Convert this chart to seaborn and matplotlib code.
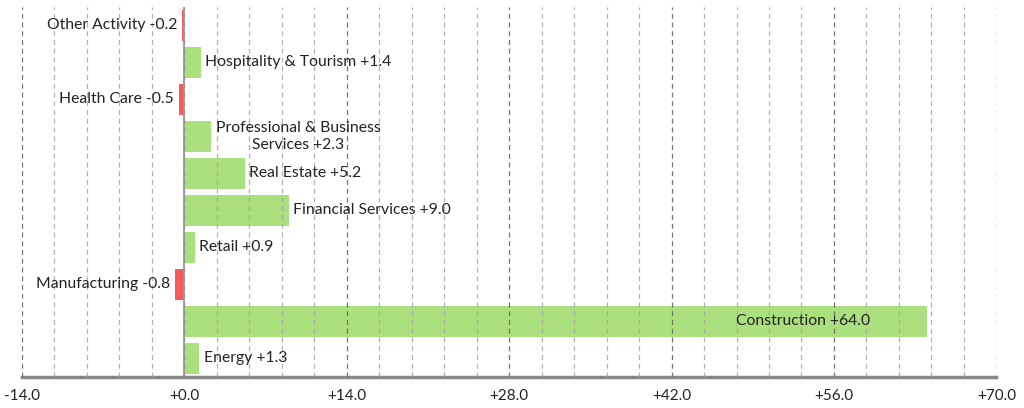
import matplotlib
matplotlib.use("Agg")
import matplotlib.pyplot as plt
import numpy as np
import pandas as pd
import seaborn as sns
from matplotlib.ticker import MultipleLocator

sectors = ["Other Activity", "Hospitality & Tourism", "Health Care",
           "Professional & Business\nServices", "Real Estate", "Financial Services",
           "Retail", "Manufacturing", "Construction", "Energy"]
changes = [-0.2, 1.4, -0.5, 2.3, 5.2, 9.0, 0.9, -0.8, 64.0, 1.3]
x_ticks = [-14, 0, 14, 28, 42, 56, 70]

df = pd.DataFrame({"sector": sectors, "change": changes})
df["sign"] = np.where(df["change"] >= 0, "pos", "neg")

sns.set_style("white")
plt.rcParams["font.family"] = ["Lato", "DejaVu Sans"]

fig = plt.figure(figsize=(10.24, 4.08), dpi=100)
ax = fig.add_axes([0.0215, 0.076, 0.9515, 0.907])

sns.barplot(data=df, y="sector", x="change", hue="sign", orient="h",
            palette={"pos": "#abe07e", "neg": "#f45b5b"}, dodge=False,
            width=0.84, legend=False, ax=ax, zorder=2, saturation=1,
            linewidth=0)

ax.set_xlim(-14, 70)
ax.set_ylim(len(sectors) - 0.5, -0.5)
ax.xaxis.set_major_locator(MultipleLocator(14))
ax.xaxis.set_minor_locator(MultipleLocator(2.8))
ax.set_xticks(x_ticks)
ax.set_xticklabels([f"{t:+.1f}" if t != 0 else "+0.0" for t in x_ticks],
                   fontsize=11, color="#222222")
ax.set_yticks([])
ax.set_xlabel("")
ax.set_ylabel("")

# gridlines show through the bars in the original
ax.set_axisbelow(False)
ax.grid(which="major", axis="x", linestyle=(0, (4, 3)), color="#666666", linewidth=0.9, alpha=0.9)
ax.grid(which="minor", axis="x", linestyle=(0, (4, 3)), color="#aaaaaa", linewidth=0.9, alpha=0.9)
ax.tick_params(axis="x", which="both", length=0, pad=9)

for s in ["top", "right", "left"]:
    ax.spines[s].set_visible(False)
ax.spines["bottom"].set_color("#888888")
ax.spines["bottom"].set_linewidth(2.5)
ax.axvline(0, color="#999999", linewidth=1.3, zorder=3)

for i, (name, val) in enumerate(zip(sectors, changes)):
    text = f"{name} {val:+.1f}"
    if name == "Construction":
        ax.text(val - 4.9, i, text, ha="right", va="center", fontsize=11.3,
                color="#222222", zorder=5)
    elif val >= 0:
        ax.text(val + 0.4, i, text, ha="left", va="center", fontsize=11.3,
                color="#222222", multialignment="center", zorder=5)
    else:
        ax.text(val - 0.4, i, text, ha="right", va="center", fontsize=11.3,
                color="#222222", zorder=5)

fig.savefig("out.png", dpi=100)
